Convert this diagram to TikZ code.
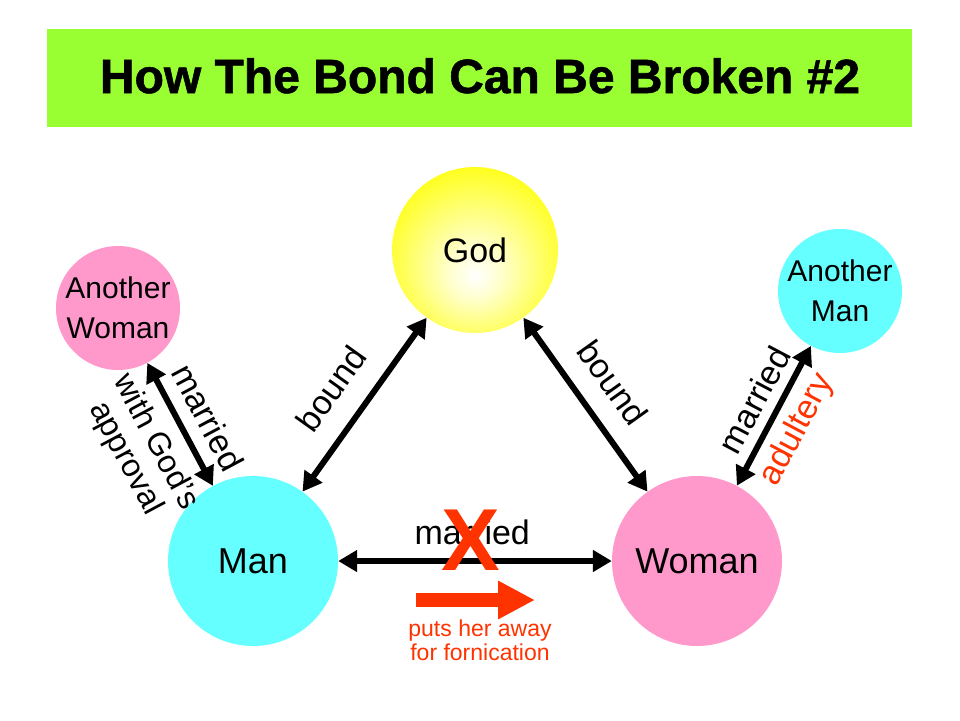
\documentclass[tikz,border=0pt]{standalone}
\usepackage{fontspec}
\setmainfont{Liberation Sans}
\newfontfamily\titlefont[FakeBold=1.2]{Liberation Sans Bold}
\usetikzlibrary{arrows.meta}
\definecolor{bannergreen}{HTML}{99FF33}
\definecolor{wifepink}{HTML}{FF99CC}
\definecolor{mancyan}{HTML}{66FFFF}
\definecolor{sinred}{HTML}{FF3300}
\pgfdeclareradialshading{godglow}{\pgfpoint{0bp}{-8bp}}{color(0bp)=(white); color(8bp)=(white!80!yellow); color(32bp)=(yellow); color(50bp)=(yellow)}
\newcommand{\BondTipLen}{19pt}
\newcommand{\BondTipWid}{21pt}

\begin{document}
\begin{tikzpicture}[x=1pt,y=-1pt,
		person/.style={circle, inner sep=0pt, minimum size=#1},
		bond/.style={line width=6pt, {Triangle[length=\BondTipLen,width=\BondTipWid]}-{Triangle[length=\BondTipLen,width=\BondTipWid]}},
		lbl/.style={font=\fontsize{34}{34}\selectfont, sloped},
		lift/.style={outer sep=#1},
	]
	\useasboundingbox (0,0) rectangle (960,720);
	\fill[white] (0,0) rectangle (960,720);
	% banner and title
	\node[fill=bannergreen, minimum width=865pt, minimum height=98pt, inner sep=0pt] (banner) at (479.5,78) {};
	\node[font=\titlefont\fontsize{48}{48}\selectfont, anchor=base, inner sep=0pt] (title) at (480,93) {How The Bond Can Be Broken \#2};
	% people
	\node[person=166pt, shading=godglow, label={[font=\fontsize{34}{40}\selectfont]center:God}] (god) at (475,250) {};
	\node[person=124pt, fill=wifepink, label={[font=\fontsize{30}{40}\selectfont, align=center]center:{Another\\Woman}}] (awoman) at (118,308) {};
	\node[person=124pt, fill=mancyan, label={[font=\fontsize{30}{40}\selectfont, align=center]center:{Another\\Man}}] (aman) at (840,291) {};
	\node[person=170pt, fill=mancyan, label={[font=\fontsize{36}{40}\selectfont]center:Man}] (man) at (253,561) {};
	\node[person=170pt, fill=wifepink, label={[font=\fontsize{36}{40}\selectfont]center:Woman}] (woman) at (697,561) {};
	% bonds
	\draw[bond] (man) -- (god) node[lbl, pos=0.47, above, lift=21pt] {bound};
	\draw[bond] (god) -- (woman) node[lbl, pos=0.49, above, lift=19pt] {bound};
	\draw[bond] (awoman) -- (man)
		node[lbl, pos=0.55, above, lift=12pt] {married}
		node[lbl, pos=0.53, below, lift=12pt, align=center, font=\fontsize{32}{34}\selectfont] {with God’s\\approval};
	\draw[bond] (woman) -- (aman)
		node[lbl, pos=0.53, above, lift=9pt] {married}
		node[lbl, pos=0.49, below, lift=8pt, text=sinred] {adultery};
	\draw[bond] (man) -- (woman) node[lbl, pos=0.49, above, lift=13pt] {married};
	% broken
	\node[text=sinred, font=\fontsize{88}{88}\selectfont\bfseries, inner sep=0pt] (cross) at (471,540) {X};
	\coordinate (awaystart) at (416,600);
	\coordinate (awayend) at (535,600);
	\draw[sinred, line width=14pt, -{Triangle[length=37pt,width=36pt]}] (awaystart) -- (awayend);
	\node[text=sinred, font=\fontsize{23}{24}\selectfont, align=center] (fornication) at (480,640) {puts her away\\for fornication};
\end{tikzpicture}
\end{document}
